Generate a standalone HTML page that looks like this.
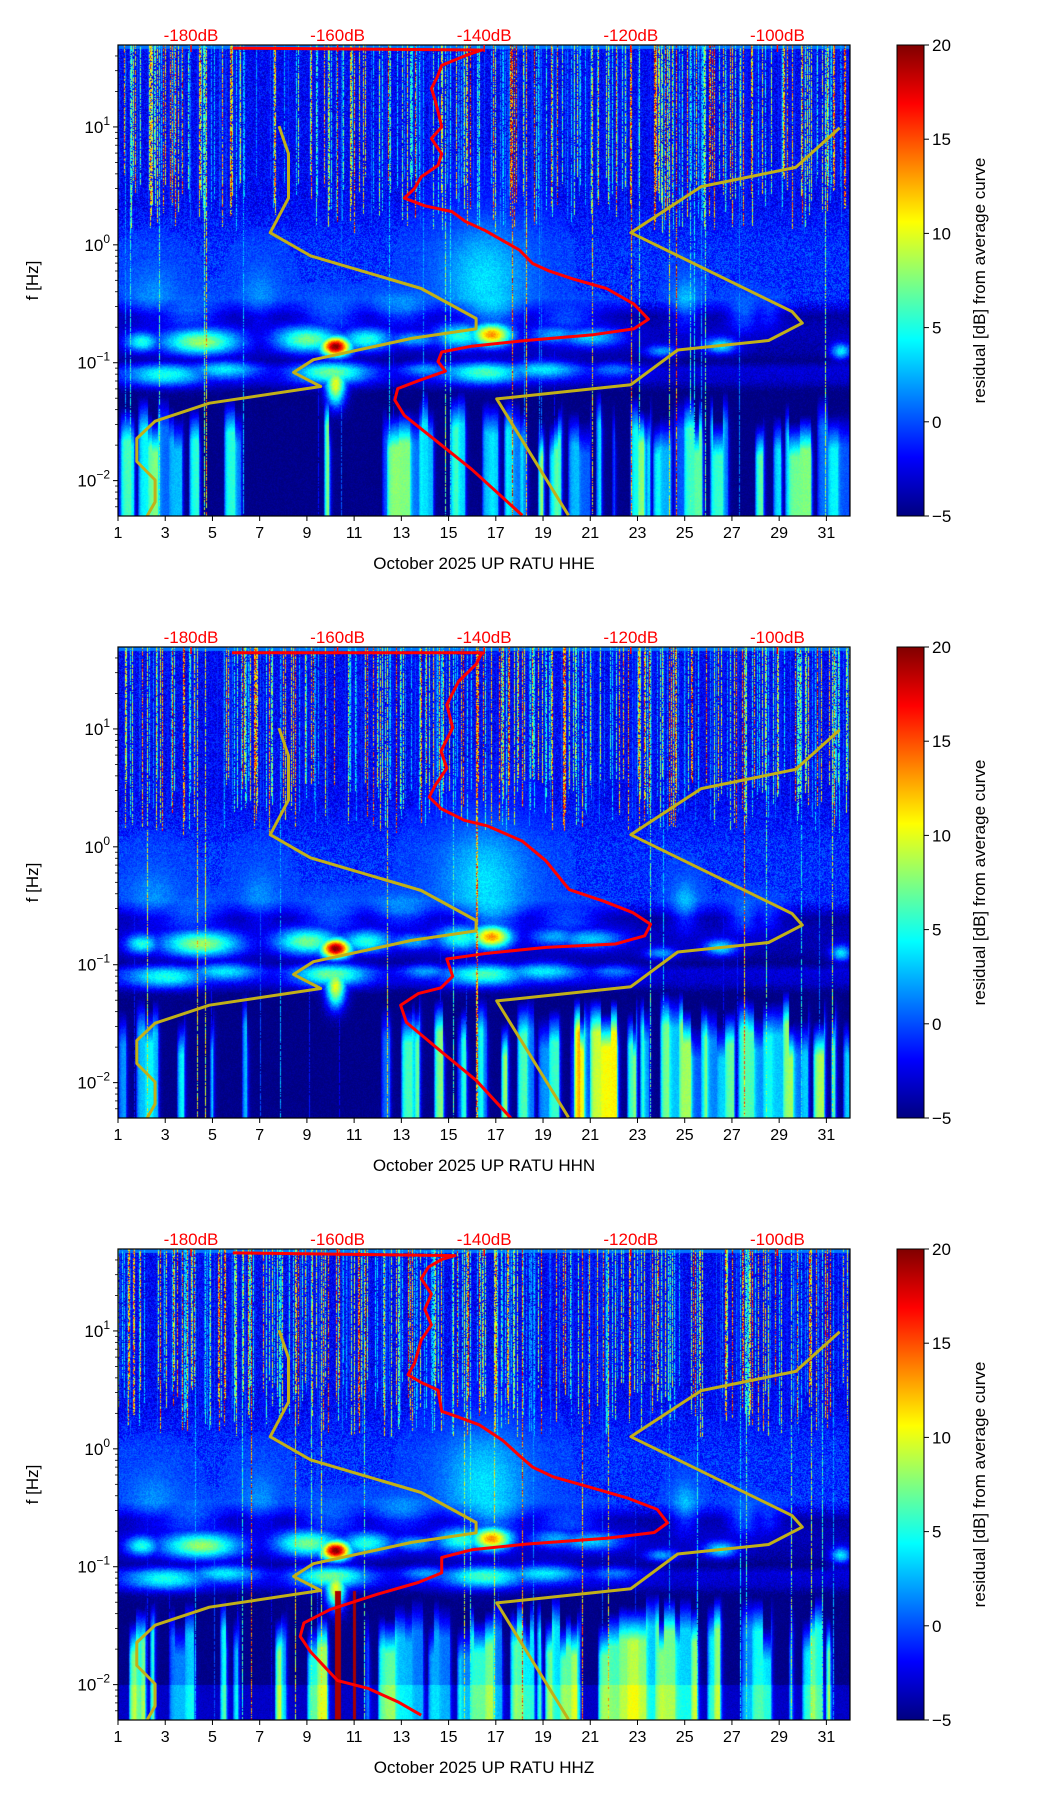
<!DOCTYPE html>
<html><head><meta charset="utf-8"><style>
html,body{margin:0;padding:0;background:#fff;}
#wrap{position:relative;width:1052px;height:1806px;overflow:hidden;font-family:"Liberation Sans","DejaVu Sans",sans-serif;}
canvas{position:absolute;}
svg{position:absolute;left:0;top:0;}
</style></head><body>
<div id="wrap">
<canvas id="c0" width="732" height="471" style="left:118px;top:45px"></canvas>
<canvas id="c1" width="732" height="471" style="left:118px;top:647px"></canvas>
<canvas id="c2" width="732" height="471" style="left:118px;top:1249px"></canvas>
<svg id="svg" width="1052" height="1806" xmlns="http://www.w3.org/2000/svg">
<defs><linearGradient id="jet" x1="0" y1="1" x2="0" y2="0">
<stop offset="0" stop-color="#000080"/><stop offset="0.125" stop-color="#0000ff"/><stop offset="0.375" stop-color="#00ffff"/><stop offset="0.625" stop-color="#ffff00"/><stop offset="0.875" stop-color="#ff0000"/><stop offset="1" stop-color="#800000"/></linearGradient></defs>
</svg>
</div>
<script>
// ---- data ----
const panelTops=[45,647,1249];
const channelNames=["HHE","HHN","HHZ"];
const dayTicks=[1,3,5,7,9,11,13,15,17,19,21,23,25,27,29,31];
const dbTicks=[-180,-160,-140,-120,-100];
const cbTicks=[20,15,10,5,0,-5];
const decadeTicks=[-2,-1,0,1];
const red0Db=[-174.3,-140.3,-142.6,-145.8,-146.4,-147.2,-146.7,-146.3,-145.8,-147.2,-145.8,-146.3,-148.6,-149.5,-150.9,-148.1,-144.4,-142.6,-139.8,-137.5,-135.2,-133.4,-131.1,-127.9,-123.3,-119.6,-117.6,-119.6,-125.1,-134.3,-141.7,-145.8,-146.3,-145.3,-149.0,-151.8,-152.2,-150.9,-146.3,-141.7,-134.8];
const red0Lf=[1.669,1.653,1.604,1.522,1.424,1.326,1.228,1.131,1.0,0.902,0.772,0.674,0.576,0.478,0.396,0.331,0.282,0.2,0.119,0.038,-0.044,-0.158,-0.223,-0.289,-0.37,-0.501,-0.631,-0.713,-0.762,-0.811,-0.86,-0.909,-0.99,-1.072,-1.153,-1.219,-1.317,-1.447,-1.675,-1.904,-2.295];
const red1Db=[-174.4,-140.3,-141.1,-143.5,-145.1,-144.3,-145.9,-145.1,-146.7,-147.5,-145.9,-142.7,-139.5,-134.8,-131.6,-128.4,-123.7,-119.7,-117.3,-118.1,-122.1,-131.6,-139.5,-145.1,-144.3,-145.9,-149.0,-151.4,-150.6,-145.9,-141.1,-136.3];
const red1Lf=[1.647,1.647,1.549,1.402,1.206,1.010,0.814,0.667,0.520,0.422,0.324,0.225,0.176,0.049,-0.118,-0.363,-0.461,-0.559,-0.657,-0.755,-0.824,-0.853,-0.902,-0.951,-1.098,-1.196,-1.245,-1.343,-1.490,-1.735,-1.980,-2.304];
const red2Db=[-174.3,-144.0,-145.8,-147.6,-148.6,-147.2,-148.1,-147.2,-148.6,-149.5,-150.4,-148.6,-146.3,-145.8,-143.5,-140.7,-137.5,-135.2,-133.4,-130.6,-126.0,-120.5,-116.4,-115.0,-116.8,-123.3,-134.3,-141.7,-145.8,-145.8,-149.0,-154.5,-161.0,-164.6,-165.1,-163.7,-160.0,-155.9,-151.8,-148.6];
const red2Lf=[1.662,1.639,1.607,1.542,1.444,1.313,1.183,1.052,0.922,0.726,0.628,0.563,0.498,0.318,0.269,0.204,0.073,-0.057,-0.155,-0.237,-0.318,-0.416,-0.514,-0.628,-0.710,-0.759,-0.808,-0.856,-0.922,-1.052,-1.134,-1.232,-1.362,-1.476,-1.591,-1.721,-1.966,-2.031,-2.145,-2.259];
const lowDb=[-168.0,-166.7,-166.7,-169.2,-163.7,-148.6,-141.1,-141.1,-149.9,-163.3,-166.0,-162.3,-177.5,-184.9,-187.4,-187.4,-184.9,-184.9,-186.0];
const lowLf=[1.007,0.772,0.396,0.103,-0.093,-0.370,-0.625,-0.713,-0.794,-0.974,-1.082,-1.202,-1.343,-1.496,-1.643,-1.838,-1.995,-2.181,-2.302];
const highDb=[-91.5,-97.5,-110.4,-120.0,-98.0,-96.6,-101.2,-113.6,-120.0,-138.3,-128.5];
const highLf=[0.993,0.657,0.494,0.103,-0.566,-0.664,-0.811,-0.892,-1.186,-1.307,-2.295];
const redDb=[red0Db,red1Db,red2Db], redLf=[red0Lf,red1Lf,red2Lf];

// ---- axes ----
const X0=118,W=732,H=471,LFMAX=1.695,LFMIN=-2.3;
const xDay=d=>X0+(d-1)*W/31;
const xDb=db=>191+(db+180)*7.33;
const yLf=(lf,top)=>top+(LFMAX-lf)/(LFMAX-LFMIN)*H;
const dayAt=px=>1+px*31/W;
const lfAt=py=>LFMAX-py/H*(LFMAX-LFMIN);

const svg=document.getElementById('svg');
const NS='http://www.w3.org/2000/svg';
function mk(tag,attrs,parent){const e=document.createElementNS(NS,tag);for(const k in attrs)e.setAttribute(k,attrs[k]);(parent||svg).appendChild(e);return e;}

// ---- spectrogram raster (texture) ----
let sd=1;
function rnd(){sd|=0;sd=sd+0x6D2B79F5|0;let t=Math.imul(sd^sd>>>15,1|sd);t=t+Math.imul(t^t>>>7,61|t)^t;return((t^t>>>14)>>>0)/4294967296;}
function jet(t){t=Math.max(0,Math.min(1,t));const c=v=>Math.max(0,Math.min(1,v));return [c(1.5-Math.abs(4*t-3))*255,c(1.5-Math.abs(4*t-2))*255,c(1.5-Math.abs(4*t-1))*255];}
const blobs=[[4.5,-0.82,1.2,0.08,12],[2,-0.82,0.5,0.06,9],[9,-0.8,1.0,0.08,11],[10.2,-0.86,0.45,0.06,24],[11.5,-0.8,0.8,0.07,9],[16.8,-0.76,0.6,0.07,17],[15.5,-0.77,0.8,0.08,9],[21,-0.78,1.0,0.06,7],[26.5,-0.85,0.5,0.05,8],[24,-0.9,0.5,0.04,6],[31.6,-0.9,0.3,0.05,8],[13.5,-0.8,0.8,0.05,6],[19.5,-0.76,0.8,0.06,6],
[16.5,-0.3,1.3,0.35,4.5],[16.8,-0.55,1.0,0.15,5.5],[4,-0.6,1.0,0.1,4],[10,-0.6,1.0,0.1,4],[13,-0.55,1.0,0.1,4],[20,-0.62,1.0,0.08,4],[25,-0.5,0.4,0.15,4],[27.5,-0.6,0.5,0.1,4],[28.5,-0.6,0.4,0.08,3],[7,-0.45,0.6,0.2,2.5],[2.5,-0.45,0.8,0.2,2.5],
[3,-1.1,1.2,0.07,8],[5.5,-1.05,1.0,0.06,7],[10,-1.08,1.1,0.07,10],[10.2,-1.2,0.3,0.12,14],[16.5,-1.08,1.2,0.07,9],[19,-1.05,1.1,0.06,7],[14,-1.05,0.7,0.05,5],[22,-1.05,0.7,0.05,4]];
const knotLf=[1.8,0.4,0.2,0.0,-0.45,-0.6,-0.72,-0.9,-0.98,-1.05,-1.15,-1.25,-2.4];
const knotV=[-2.0,-2.0,-1.4,-0.8,-0.8,-4.2,-3.6,-4.0,-4.8,-2.8,-3.2,-5,-5];
function base(lf){for(let i=0;i<knotLf.length-1;i++){if(lf<=knotLf[i]&&lf>=knotLf[i+1]){const t=(knotLf[i]-lf)/(knotLf[i]-knotLf[i+1]);return knotV[i]+t*(knotV[i+1]-knotV[i]);}}return -5;}
function drawSpec(pi){
  sd=777+pi*991;
  const cv=document.getElementById('c'+pi),ctx=cv.getContext('2d');
  const img=ctx.createImageData(W,H),d=img.data;
  const streakAmp=new Float32Array(W),streakEnd=new Float32Array(W),lowCol=new Float32Array(W),lowTop=new Float32Array(W);
  let prev=-5,target=-5,len=0,top0=-1.25;
  for(let c=0;c<W;c++){
    if(rnd()<0.5){streakAmp[c]=Math.pow(rnd(),1.6)*24;streakEnd[c]=rnd()<0.08?-2.4:0.1+rnd()*0.5;}
    const day=dayAt(c);
    if(len<=0){len=3+Math.floor(rnd()*9);
      let p=day>12?0.7:(day<2.5?0.8:(day>6&&day<12?0.15:0.45));
      target=rnd()<p?(0+rnd()*9):-5;
      if(pi==1&&day>20&&day<22)target+=5;
      top0=-1.2-rnd()*0.3;}
    len--;
    const v=0.55*prev+0.45*target;prev=v;
    lowCol[c]=v;lowTop[c]=top0;
  }
  for(let y=0;y<H;y++){
    const lf=lfAt(y);const b=base(lf);
    for(let x=0;x<W;x++){
      const day=dayAt(x);
      let v=b+(rnd()-0.5)*(lf>-0.55?3.4:1.5);
      for(const bl of blobs){const dx=(day-bl[0])/bl[2],dy=(lf-bl[1])/bl[3];const e=dx*dx+dy*dy;if(e<9)v=Math.max(v,b+bl[4]*Math.exp(-e/2)+(rnd()-0.5)*1.5);}
      if(lf<lowTop[x]){const f=Math.min(1,(lowTop[x]-lf)/0.3);v=Math.max(v,-5+(lowCol[x]+5)*f+(rnd()-0.5));}
      if(pi==2&&lf<-2&&lf>-2.3)v+=1.5;
      if(pi==2&&(Math.abs(day-10.3)<0.13||Math.abs(day-11.0)<0.05)&&lf<-1.2)v=19;
      if(streakAmp[x]>0&&lf>streakEnd[x]&&rnd()<0.8)v=Math.max(v,-2+streakAmp[x]*(0.5+0.5*rnd()));
      if(y<4)v=Math.max(v,1);
      const col=jet((v+5)/25);const i=(y*W+x)*4;
      d[i]=col[0];d[i+1]=col[1];d[i+2]=col[2];d[i+3]=255;
    }
  }
  ctx.putImageData(img,0,0);
}
for(let p=0;p<3;p++)drawSpec(p);

// ---- vector overlay ----
function polyline(dbArr,lfArr,top,color,w,name){
  let pts=[];for(let i=0;i<dbArr.length;i++)pts.push(xDb(dbArr[i]).toFixed(1)+','+yLf(lfArr[i],top).toFixed(1));
  const e=mk('polyline',{points:pts.join(' '),fill:'none',stroke:color,'stroke-width':w,'stroke-linejoin':'round'});
  
  
  return e;
}
for(let p=0;p<3;p++){
  const top=panelTops[p],bot=top+H;
  const clipId='cl'+p;
  const cp=mk('clipPath',{id:clipId});mk('rect',{x:X0,y:top,width:W,height:H},cp);
  const g=mk('g',{'clip-path':'url(#'+clipId+')'});
  
  
  g.appendChild(polyline(lowDb,lowLf,top,'#c2b018',3,'low-noise-model-line'));
  g.appendChild(polyline(highDb,highLf,top,'#c2b018',3,'high-noise-model-line'));
  g.appendChild(polyline(redDb[p],redLf[p],top,'#ff0000',3,'average-psd-curve'));
  const frame=mk('rect',{x:X0,y:top,width:W,height:H,fill:'none',stroke:'#000','stroke-width':1.2});
  
  
  for(const dt of dayTicks){const x=xDay(dt);mk('line',{x1:x,y1:bot,x2:x,y2:bot+5,stroke:'#000'});
    const t=mk('text',{x:x,y:bot+22,'text-anchor':'middle','font-size':16,fill:'#000'});t.textContent=dt;
    
    }
  for(const db of dbTicks){const x=xDb(db);mk('line',{x1:x,y1:top,x2:x,y2:top+7,stroke:'#ff0000','stroke-width':1.5});
    const t=mk('text',{x:x,y:top-4,'text-anchor':'middle','font-size':17,fill:'#ff0000'});t.textContent=db+'dB';
    
    }
  for(const dec of decadeTicks){const y=yLf(dec,top);mk('line',{x1:X0-5,y1:y,x2:X0,y2:y,stroke:'#000'});
    const t=mk('text',{x:X0-8,y:y+6,'text-anchor':'end','font-size':17,fill:'#000'});t.textContent='10';
    const s=mk('tspan',{dy:-8,'font-size':12},t);s.textContent=dec<0?'\u2212'+(-dec):''+dec;
    
    }
  for(let dec=-3;dec<=1;dec++)for(let m=2;m<=9;m++){const lf=dec+Math.log10(m);if(lf>LFMIN&&lf<LFMAX){const y=yLf(lf,top);mk('line',{x1:X0-3,y1:y,x2:X0,y2:y,stroke:'#000','stroke-width':0.8});}}
  const yl=mk('text',{x:38,y:top+H/2,'text-anchor':'middle','font-size':17,transform:'rotate(-90 38 '+(top+H/2)+')'});yl.textContent='f [Hz]';
  
  
  const xl=mk('text',{x:X0+W/2,y:bot+53,'text-anchor':'middle','font-size':17});xl.textContent='October 2025 UP RATU  '+channelNames[p];
  
  
  const cb=mk('rect',{x:897,y:top,width:27,height:H,fill:'url(#jet)',stroke:'#000','stroke-width':1});
  
  
  for(const v of cbTicks){const y=top+(20-v)/25*H;mk('line',{x1:924,y1:y,x2:929,y2:y,stroke:'#000'});
    const t=mk('text',{x:932,y:y+6,'font-size':17});t.textContent=v<0?'\u2212'+(-v):v;
    
    }
  const cl=mk('text',{x:985,y:top+H/2,'text-anchor':'middle','font-size':17,transform:'rotate(-90 985 '+(top+H/2)+')'});cl.textContent='residual [dB] from average curve';
  
  
}
</script>
</body></html>
